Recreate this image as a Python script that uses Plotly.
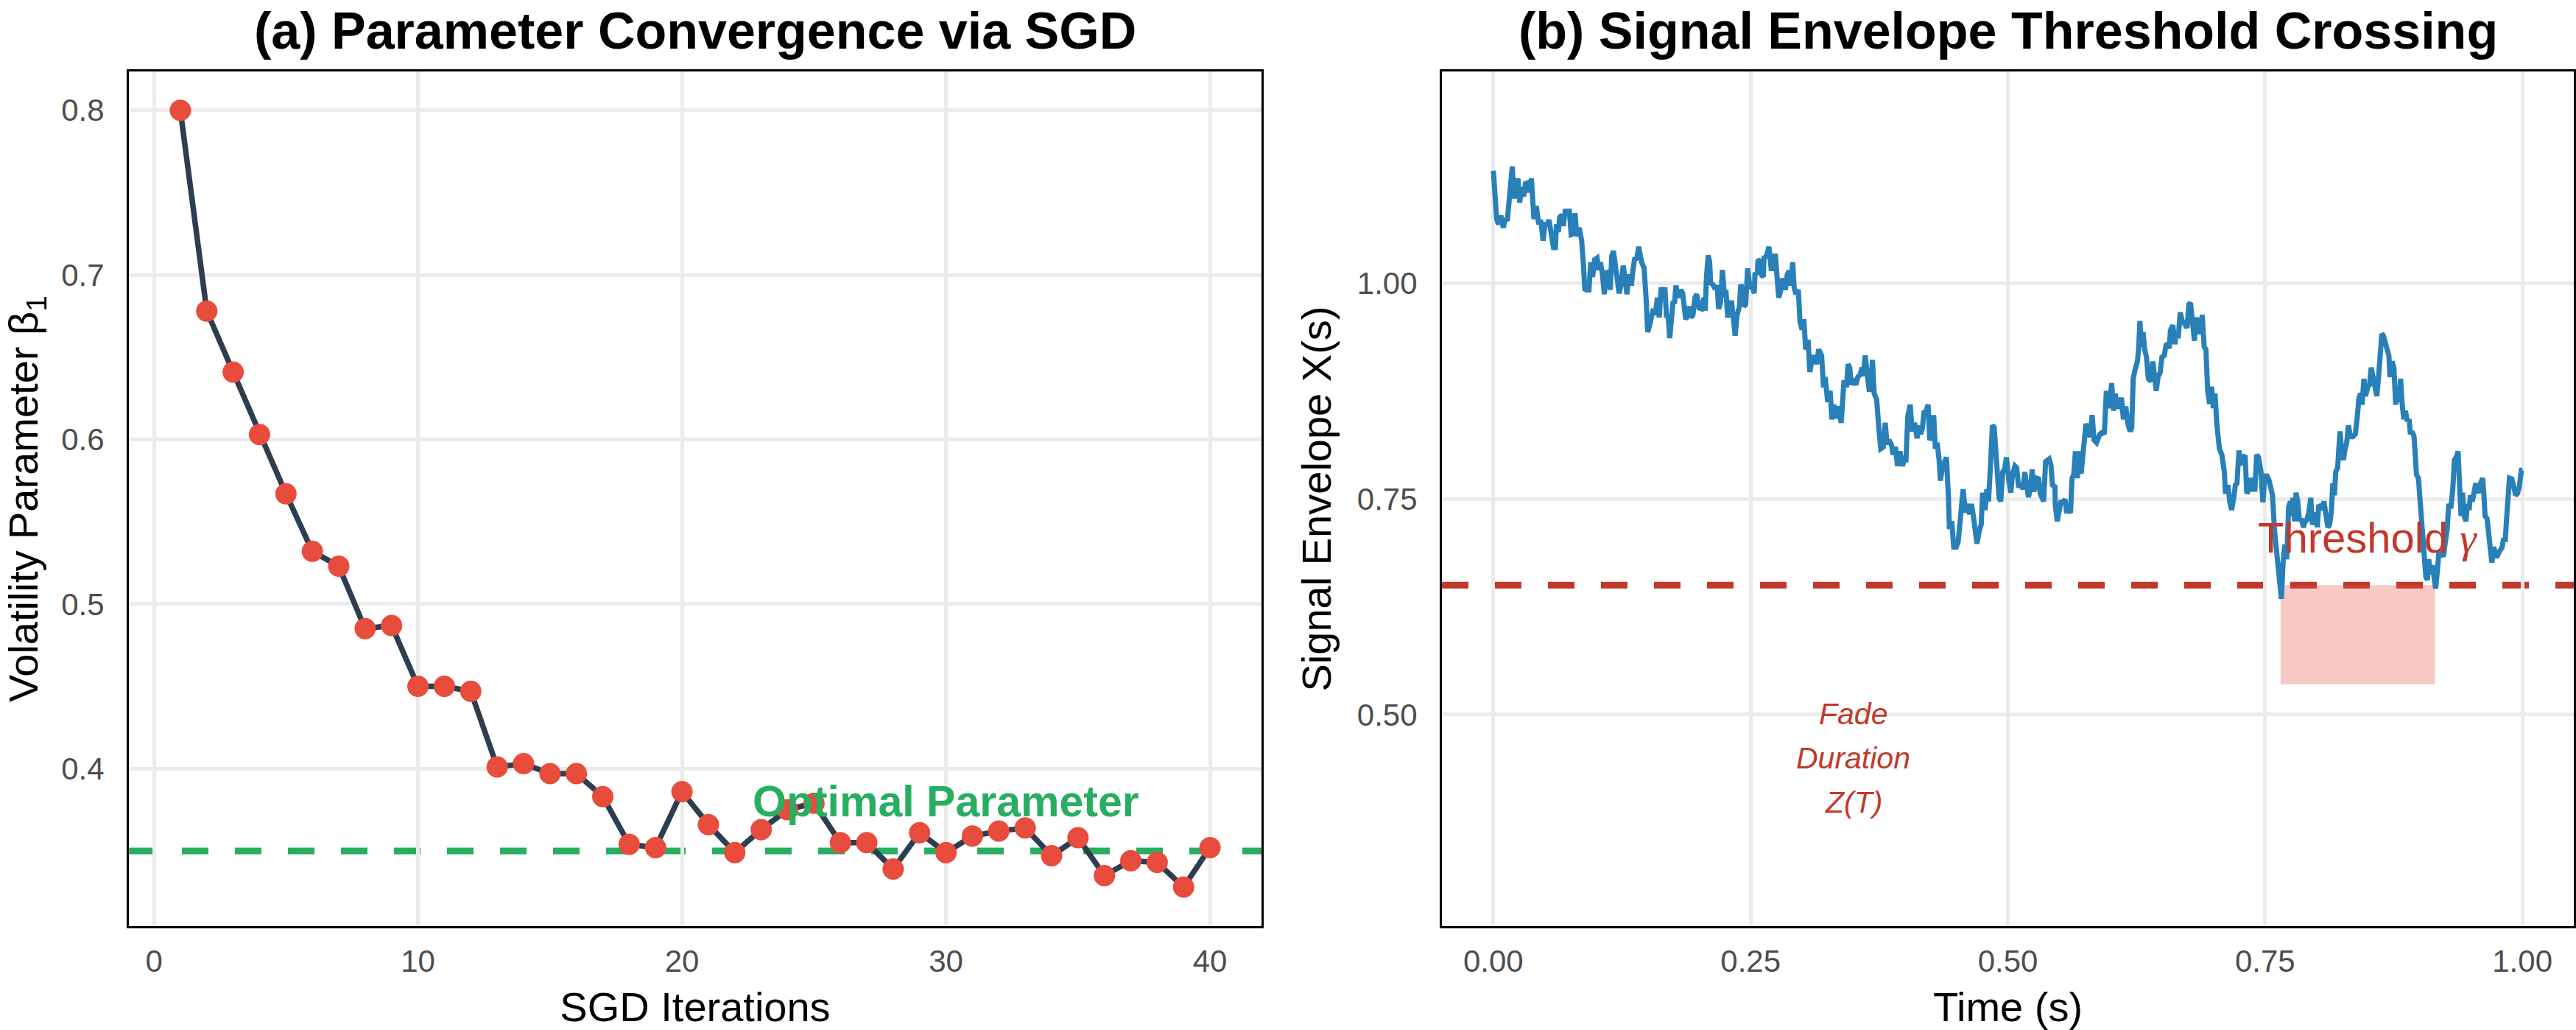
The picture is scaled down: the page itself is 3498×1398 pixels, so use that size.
import plotly.graph_objects as go

# ---------------- data: panel (a) ----------------
iterations = [1, 2, 3, 4, 5, 6, 7, 8, 9, 10, 11, 12, 13, 14, 15, 16, 17, 18, 19, 20,
              21, 22, 23, 24, 25, 26, 27, 28, 29, 30, 31, 32, 33, 34, 35, 36, 37, 38, 39, 40]
beta_values = [0.800, 0.678, 0.641, 0.603, 0.567, 0.532, 0.523, 0.485, 0.487, 0.450,
               0.450, 0.447, 0.401, 0.403, 0.397, 0.397, 0.383, 0.354, 0.352, 0.386,
               0.366, 0.349, 0.363, 0.375, 0.379, 0.355, 0.355, 0.339, 0.361, 0.349,
               0.359, 0.362, 0.364, 0.347, 0.358, 0.335, 0.344, 0.343, 0.328, 0.352]
optimal_beta = 0.35
x_ticks_a = [0, 10, 20, 30, 40]
y_ticks_a = [0.4, 0.5, 0.6, 0.7, 0.8]
y_ticklabels_a = ["0.4", "0.5", "0.6", "0.7", "0.8"]

# ---------------- data: panel (b) ----------------
time_s = [
    0.0000, 0.0013, 0.0032, 0.0049, 0.0073, 0.0096, 0.0113, 0.0137, 0.0151, 0.0168,
    0.0184, 0.0199, 0.0223, 0.0239, 0.0256, 0.0275, 0.0294, 0.0311, 0.0334, 0.0346,
    0.0370, 0.0394, 0.0418, 0.0441, 0.0460, 0.0484, 0.0501, 0.0525, 0.0541, 0.0565,
    0.0584, 0.0603, 0.0613, 0.0632, 0.0644, 0.0667, 0.0679, 0.0698, 0.0739, 0.0756,
    0.0779, 0.0794, 0.0810, 0.0834, 0.0858, 0.0874, 0.0889, 0.0905, 0.0929, 0.0946,
    0.0965, 0.0984, 0.1008, 0.1024, 0.1041, 0.1060, 0.1079, 0.1096, 0.1120, 0.1136,
    0.1150, 0.1167, 0.1179, 0.1203, 0.1222, 0.1239, 0.1262, 0.1279, 0.1298, 0.1317,
    0.1341, 0.1357, 0.1374, 0.1393, 0.1412, 0.1441, 0.1465, 0.1484, 0.1500, 0.1517,
    0.1536, 0.1555, 0.1572, 0.1595, 0.1612, 0.1631, 0.1650, 0.1667, 0.1683, 0.1698,
    0.1714, 0.1731, 0.1745, 0.1762, 0.1774, 0.1798, 0.1821, 0.1840, 0.1857, 0.1869,
    0.1893, 0.1905, 0.1921, 0.1940, 0.1959, 0.1976, 0.2000, 0.2024, 0.2047, 0.2059,
    0.2071, 0.2088, 0.2102, 0.2112, 0.2135, 0.2155, 0.2174, 0.2190, 0.2207, 0.2226,
    0.2245, 0.2262, 0.2278, 0.2297, 0.2316, 0.2333, 0.2350, 0.2369, 0.2392, 0.2404,
    0.2421, 0.2435, 0.2452,
    0.2471, 0.2495, 0.2511, 0.2535, 0.2542, 0.2566, 0.2571, 0.2595, 0.2607, 0.2623,
    0.2630, 0.2654, 0.2678, 0.2690, 0.2702, 0.2714, 0.2742, 0.2757, 0.2773, 0.2790,
    0.2809, 0.2828, 0.2837, 0.2856, 0.2876, 0.2892, 0.2909, 0.2923, 0.2940, 0.2964,
    0.2980, 0.2999, 0.3018, 0.3035, 0.3059, 0.3075, 0.3094, 0.3118, 0.3142, 0.3161,
    0.3190, 0.3209, 0.3225, 0.3249, 0.3273, 0.3290, 0.3309, 0.3332, 0.3351, 0.3380,
    0.3399, 0.3408, 0.3432, 0.3447, 0.3463, 0.3480, 0.3499, 0.3523, 0.3542, 0.3566,
    0.3582, 0.3594, 0.3613, 0.3630, 0.3654, 0.3670, 0.3684, 0.3701, 0.3725, 0.3749,
    0.3765, 0.3789, 0.3808, 0.3827, 0.3844, 0.3868, 0.3884, 0.3908, 0.3927, 0.3951,
    0.3975, 0.3994, 0.4010, 0.4027, 0.4051, 0.4070, 0.4094, 0.4118, 0.4137, 0.4153,
    0.4170, 0.4184, 0.4208, 0.4225, 0.4241, 0.4255, 0.4279, 0.4296, 0.4313, 0.4332,
    0.4344, 0.4367, 0.4384, 0.4403, 0.4422, 0.4432, 0.4455, 0.4474, 0.4498, 0.4517,
    0.4541, 0.4565, 0.4589, 0.4612, 0.4629, 0.4646, 0.4665, 0.4684, 0.4700, 0.4724,
    0.4741, 0.4755, 0.4779, 0.4796, 0.4812, 0.4831, 0.4850, 0.4867, 0.4891, 0.4915,
    0.4931, 0.4950, 0.4969, 0.4986,
    0.5010, 0.5029, 0.5045, 0.5069, 0.5086, 0.5105, 0.5129, 0.5148, 0.5164, 0.5188,
    0.5200, 0.5219, 0.5236, 0.5252, 0.5267, 0.5276, 0.5300, 0.5314, 0.5331, 0.5348,
    0.5367, 0.5386, 0.5402, 0.5419, 0.5433, 0.5457, 0.5462, 0.5481, 0.5498, 0.5514,
    0.5538, 0.5557, 0.5569, 0.5593, 0.5609, 0.5624, 0.5640, 0.5657, 0.5676, 0.5695,
    0.5712, 0.5728, 0.5743, 0.5759, 0.5783, 0.5800, 0.5819, 0.5838, 0.5862, 0.5878,
    0.5895, 0.5919, 0.5938, 0.5957, 0.5973, 0.5985, 0.6009, 0.6028, 0.6045, 0.6061,
    0.6085, 0.6104, 0.6123, 0.6147, 0.6164, 0.6188, 0.6204, 0.6218, 0.6235, 0.6259,
    0.6271, 0.6283, 0.6299, 0.6314, 0.6330, 0.6347, 0.6366, 0.6390, 0.6409, 0.6425,
    0.6442, 0.6461, 0.6480, 0.6497, 0.6521, 0.6537, 0.6552, 0.6568, 0.6580, 0.6604,
    0.6623, 0.6640, 0.6656, 0.6675, 0.6694, 0.6718, 0.6742, 0.6759, 0.6775, 0.6794,
    0.6813, 0.6830, 0.6847, 0.6866, 0.6889, 0.6908, 0.6925, 0.6942, 0.6961, 0.6980,
    0.6997, 0.7013, 0.7032, 0.7056, 0.7080, 0.7104, 0.7115, 0.7139, 0.7156, 0.7175,
    0.7199, 0.7211, 0.7227, 0.7246, 0.7265, 0.7282, 0.7306, 0.7322, 0.7341, 0.7361,
    0.7377, 0.7401, 0.7418, 0.7437, 0.7460, 0.7479, 0.7496, 0.7513,
    0.7539, 0.7556, 0.7572, 0.7591, 0.7610, 0.7627, 0.7644, 0.7658, 0.7675, 0.7691,
    0.7710, 0.7729, 0.7746, 0.7758, 0.7770, 0.7786, 0.7801, 0.7817, 0.7834, 0.7853,
    0.7872, 0.7889, 0.7905, 0.7924, 0.7944, 0.7960, 0.7977, 0.7996, 0.8008, 0.8020,
    0.8039, 0.8055, 0.8072, 0.8091, 0.8110, 0.8127, 0.8143, 0.8158, 0.8174, 0.8186,
    0.8205, 0.8215, 0.8229, 0.8246, 0.8262, 0.8277, 0.8293, 0.8310, 0.8329, 0.8353,
    0.8377, 0.8396, 0.8412, 0.8429, 0.8443, 0.8460, 0.8476, 0.8496, 0.8515, 0.8531,
    0.8548, 0.8567, 0.8586, 0.8603, 0.8619, 0.8634, 0.8650, 0.8667, 0.8686, 0.8703,
    0.8714, 0.8733, 0.8752, 0.8769, 0.8786, 0.8800, 0.8817, 0.8833, 0.8848, 0.8864,
    0.8881, 0.8900, 0.8912, 0.8929, 0.8948, 0.8959, 0.8971, 0.8990, 0.9000, 0.9014,
    0.9031, 0.9043, 0.9062, 0.9078, 0.9090, 0.9109, 0.9126, 0.9143, 0.9157, 0.9174,
    0.9190, 0.9214, 0.9233, 0.9252, 0.9269, 0.9285, 0.9305, 0.9324, 0.9340, 0.9357,
    0.9376, 0.9388, 0.9404, 0.9419, 0.9435, 0.9452, 0.9466, 0.9483, 0.9495, 0.9514,
    0.9531, 0.9547, 0.9561, 0.9578, 0.9595, 0.9614, 0.9626, 0.9638, 0.9657, 0.9673,
    0.9690, 0.9704, 0.9721, 0.9738, 0.9752, 0.9768, 0.9785, 0.9804, 0.9818, 0.9833,
    0.9847, 0.9864, 0.9875, 0.9899, 0.9918, 0.9935, 0.9952, 0.9971, 0.9990, 1.0000,
]
envelope = [
    1.130, 1.108, 1.074, 1.068, 1.078, 1.064, 1.073, 1.074, 1.098, 1.115,
    1.135, 1.098, 1.118, 1.121, 1.093, 1.111, 1.100, 1.115, 1.116, 1.105,
    1.121, 1.074, 1.089, 1.068, 1.073, 1.049, 1.068, 1.068, 1.073, 1.057,
    1.041, 1.041, 1.068, 1.059, 1.076, 1.079, 1.066, 1.083, 1.083, 1.056,
    1.057, 1.081, 1.054, 1.064, 1.049, 1.024, 0.993, 0.992, 0.992, 1.024,
    1.007, 1.027, 1.029, 1.015, 1.024, 1.010, 0.987, 1.014, 1.010, 0.992,
    1.031, 1.037, 1.027, 1.004, 0.988, 0.997, 1.020, 1.007, 0.987, 1.010,
    0.997, 1.015, 1.029, 1.027, 1.042, 1.024, 1.017, 0.983, 0.943, 0.950,
    0.960, 0.970, 0.963, 0.983, 0.960, 0.995, 0.983, 0.995, 0.960, 0.963,
    0.936, 0.966, 0.977, 0.978, 0.997, 0.983, 0.992, 0.988, 0.963, 0.958,
    0.963, 0.973, 0.960, 0.963, 0.983, 0.987, 0.971, 0.970, 0.983, 0.968,
    1.007, 1.032, 1.024, 1.000, 0.998, 0.993, 0.997, 0.970, 0.977, 1.015,
    0.987, 0.988, 0.960, 0.977, 0.977, 0.963, 0.939, 0.963, 0.973, 0.998,
    0.993, 0.973, 0.975,
    1.017, 0.993, 1.000, 0.988, 1.010, 1.012, 1.025, 1.027, 1.009, 1.007,
    1.029, 1.031, 1.042, 1.032, 1.014, 1.031, 1.031, 1.007, 0.983, 0.990,
    1.005, 1.000, 0.992, 1.010, 1.014, 0.997, 1.024, 0.995, 0.987, 0.992,
    0.955, 0.946, 0.958, 0.923, 0.934, 0.897, 0.909, 0.916, 0.906, 0.923,
    0.916, 0.879, 0.891, 0.862, 0.875, 0.842, 0.859, 0.843, 0.857, 0.838,
    0.862, 0.887, 0.879, 0.906, 0.902, 0.882, 0.889, 0.882, 0.891, 0.894,
    0.902, 0.892, 0.916, 0.892, 0.874, 0.884, 0.911, 0.872, 0.865, 0.828,
    0.808, 0.810, 0.838, 0.813, 0.818, 0.813, 0.801, 0.810, 0.788, 0.805,
    0.788, 0.795, 0.795, 0.845, 0.859, 0.828, 0.838, 0.820, 0.835, 0.825,
    0.832, 0.850, 0.852, 0.859, 0.818, 0.822, 0.847, 0.808, 0.815, 0.795,
    0.771, 0.788, 0.795, 0.798, 0.754, 0.715, 0.724, 0.694, 0.694, 0.700,
    0.730, 0.761, 0.734, 0.744, 0.732, 0.744, 0.730, 0.710, 0.698, 0.714,
    0.720, 0.757, 0.737, 0.761, 0.747, 0.788, 0.835, 0.833, 0.798, 0.751,
    0.747, 0.781, 0.784, 0.798,
    0.771, 0.757, 0.778, 0.788, 0.786, 0.763, 0.768, 0.761, 0.781, 0.761,
    0.752, 0.761, 0.784, 0.759, 0.763, 0.774, 0.773, 0.756, 0.751, 0.747,
    0.793, 0.795, 0.796, 0.789, 0.766, 0.764, 0.741, 0.724, 0.734, 0.746,
    0.747, 0.749, 0.736, 0.736, 0.734, 0.774, 0.778, 0.805, 0.774, 0.805,
    0.779, 0.801, 0.818, 0.837, 0.825, 0.822, 0.847, 0.818, 0.815, 0.822,
    0.825, 0.827, 0.825, 0.875, 0.862, 0.855, 0.884, 0.852, 0.872, 0.855,
    0.859, 0.867, 0.842, 0.857, 0.838, 0.828, 0.832, 0.889, 0.899, 0.909,
    0.923, 0.956, 0.926, 0.943, 0.923, 0.914, 0.889, 0.886, 0.909, 0.886,
    0.875, 0.892, 0.896, 0.914, 0.916, 0.928, 0.929, 0.924, 0.945, 0.951,
    0.929, 0.943, 0.936, 0.966, 0.956, 0.953, 0.948, 0.975, 0.977, 0.956,
    0.933, 0.960, 0.953, 0.941, 0.963, 0.926, 0.923, 0.875, 0.860, 0.880,
    0.855, 0.872, 0.835, 0.808, 0.801, 0.781, 0.756, 0.766, 0.747, 0.737,
    0.754, 0.766, 0.768, 0.806, 0.789, 0.798, 0.800, 0.756, 0.761, 0.774,
    0.761, 0.761, 0.801, 0.798, 0.781, 0.746, 0.774, 0.778,
    0.771, 0.757, 0.754, 0.714, 0.690, 0.673, 0.646, 0.634, 0.676, 0.697,
    0.680, 0.741, 0.747, 0.730, 0.751, 0.724, 0.757, 0.747, 0.724, 0.727,
    0.717, 0.724, 0.725, 0.734, 0.751, 0.720, 0.727, 0.734, 0.717, 0.741,
    0.742, 0.737, 0.747, 0.730, 0.717, 0.720, 0.734, 0.768, 0.754, 0.781,
    0.786, 0.805, 0.828, 0.801, 0.795, 0.808, 0.815, 0.835, 0.822, 0.822,
    0.825, 0.845, 0.867, 0.872, 0.859, 0.889, 0.869, 0.879, 0.882, 0.902,
    0.892, 0.882, 0.869, 0.892, 0.923, 0.941, 0.939, 0.929, 0.923, 0.916,
    0.891, 0.909, 0.902, 0.859, 0.872, 0.862, 0.889, 0.859, 0.842, 0.852,
    0.840, 0.842, 0.825, 0.828, 0.822, 0.801, 0.778, 0.774, 0.761, 0.727,
    0.717, 0.690, 0.660, 0.656, 0.680, 0.663, 0.673, 0.660, 0.646, 0.666,
    0.690, 0.687, 0.683, 0.700, 0.714, 0.744, 0.739, 0.761, 0.795, 0.798,
    0.805, 0.771, 0.730, 0.757, 0.730, 0.724, 0.744, 0.737, 0.754, 0.747,
    0.761, 0.768, 0.761, 0.757, 0.768, 0.774, 0.756, 0.730, 0.727, 0.710,
    0.683, 0.676, 0.694, 0.683, 0.682, 0.687, 0.690, 0.694, 0.704, 0.700,
    0.727, 0.754, 0.774, 0.773, 0.761, 0.754, 0.756, 0.764, 0.783, 0.783,
]
threshold = 0.65
fade_start, fade_end, fade_bottom = 0.765, 0.915, 0.535
x_ticks_b = [0, 0.25, 0.5, 0.75, 1.0]
x_ticklabels_b = ["0.00", "0.25", "0.50", "0.75", "1.00"]
y_ticks_b = [0.5, 0.75, 1.0]
y_ticklabels_b = ["0.50", "0.75", "1.00"]

# ---------------- styling ----------------
FONT = "Liberation Sans, Arial, Helvetica, sans-serif"
W, H = 3498, 1398
dom_xa = [175 / W, 1713 / W]
dom_xb = [1958 / W, 3495 / W]
dom_y = [1 - 1257 / H, 1 - 97 / H]

fig = go.Figure()

fig.add_trace(go.Scatter(
    x=iterations, y=beta_values, mode="lines+markers",
    line=dict(color="#2C3E50", width=7.5),
    marker=dict(color="#E74C3C", size=29),
    xaxis="x", yaxis="y", showlegend=False, hoverinfo="skip"))

fig.add_trace(go.Scatter(
    x=time_s, y=envelope, mode="lines",
    line=dict(color="#2980B9", width=7),
    xaxis="x2", yaxis="y2", showlegend=False, hoverinfo="skip"))

common = dict(showgrid=True, gridcolor="#EBEBEB", gridwidth=5, zeroline=False,
              showline=True, mirror=True, linecolor="black", linewidth=3,
              ticks="", tickfont=dict(family=FONT, size=42, color="#4D4D4D"))

fig.update_layout(
    width=W, height=H, autosize=False,
    margin=dict(l=0, r=0, t=0, b=0),
    paper_bgcolor="white", plot_bgcolor="white",
    font=dict(family=FONT, color="black"),
    showlegend=False,
    xaxis=dict(domain=dom_xa, anchor="y", range=[-0.95, 41.95], tickvals=x_ticks_a,
               ticklabelstandoff=9,
               title=dict(text="SGD Iterations", font=dict(size=56, family=FONT), standoff=20),
               **common),
    yaxis=dict(domain=dom_y, anchor="x", range=[0.3043, 0.8236], tickvals=y_ticks_a,
               ticktext=y_ticklabels_a, ticklabelstandoff=22,
               title=dict(text="Volatility Parameter β<sub>1</sub>", font=dict(size=56, family=FONT), standoff=26),
               **common),
    xaxis2=dict(domain=dom_xb, anchor="y2", range=[-0.05, 1.05], tickvals=x_ticks_b,
                ticktext=x_ticklabels_b, ticklabelstandoff=9,
                title=dict(text="Time (s)", font=dict(size=56, family=FONT), standoff=20),
                **common),
    yaxis2=dict(domain=dom_y, anchor="x2", range=[0.255, 1.245], tickvals=y_ticks_b,
                ticktext=y_ticklabels_b, ticklabelstandoff=22,
                title=dict(text="Signal Envelope X(s)", font=dict(size=56, family=FONT), standoff=18),
                **common),
)

dash = "36px,36px"
fig.add_shape(type="line", xref="x domain", yref="y", x0=0, x1=1, y0=optimal_beta, y1=optimal_beta,
              line=dict(color="#27AE60", width=9, dash=dash), layer="below")
fig.add_shape(type="rect", xref="x2", yref="y2", x0=fade_start, x1=fade_end, y0=fade_bottom, y1=threshold,
              fillcolor="rgba(231,76,60,0.3)", line=dict(width=0), layer="below")
fig.add_shape(type="line", xref="x2 domain", yref="y2", x0=0, x1=1, y0=threshold, y1=threshold,
              line=dict(color="#C0392B", width=9, dash=dash), layer="below")

# titles
fig.add_annotation(text="<b>(a) Parameter Convergence via SGD</b>", xref="paper", yref="paper",
                   x=(dom_xa[0] + dom_xa[1]) / 2, y=1 - 42 / H, xanchor="center", yanchor="middle",
                   showarrow=False, font=dict(family=FONT, size=70, color="black"))
fig.add_annotation(text="<b>(b) Signal Envelope Threshold Crossing</b>", xref="paper", yref="paper",
                   x=(dom_xb[0] + dom_xb[1]) / 2, y=1 - 42 / H, xanchor="center", yanchor="middle",
                   showarrow=False, font=dict(family=FONT, size=70, color="black"))

# panel annotations
fig.add_annotation(text="<b>Optimal Parameter</b>", xref="x", yref="y", x=30, y=0.38,
                   showarrow=False, font=dict(family=FONT, size=59, color="#27AE60"))
fig.add_annotation(text='Threshold <span style="font-family:Liberation Serif, Times New Roman, serif"><i>γ</i></span>',
                   xref="x2", yref="y2", x=0.85, y=0.705,
                   showarrow=False, font=dict(family=FONT, size=58, color="#C0392B"))
for txt, shift in [("Fade", 60), ("Duration", 0), ("Z(T)", -60)]:
    fig.add_annotation(text=f"<i>{txt}</i>", xref="x2", yref="y2", x=0.35, y=0.45, yshift=shift,
                       showarrow=False, font=dict(family=FONT, size=41, color="#C0392B"))

fig.write_html("out.html")
